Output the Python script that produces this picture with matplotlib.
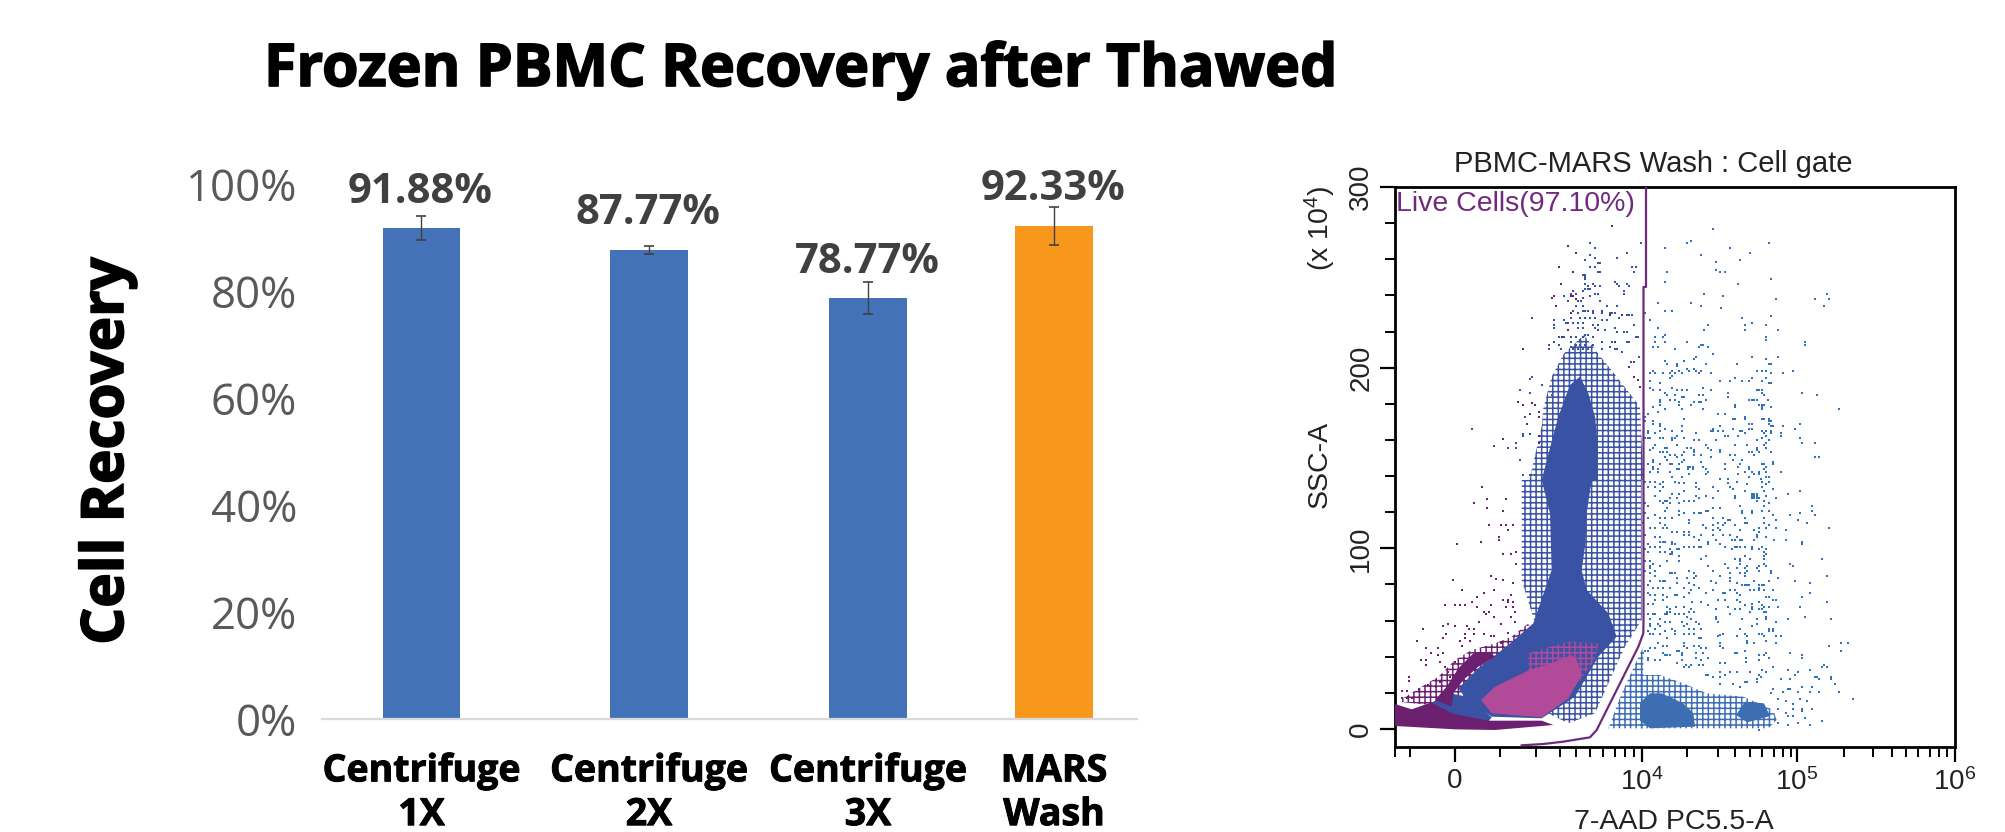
import matplotlib
matplotlib.use("Agg")
import matplotlib.pyplot as plt
import matplotlib.patheffects as pe
from matplotlib.patches import Polygon

# Recovery bars
categories = ["Centrifuge\n1X", "Centrifuge\n2X", "Centrifuge\n3X", "MARS\nWash"]
recovery = [91.88, 87.77, 78.77, 92.33]
recovery_err = [2.2, 0.7, 3.05, 3.55]
bar_colors = ["#4472b8", "#4472b8", "#4472b8", "#f7981d"]
bar_pos = [0.995, 3.27, 5.46, 7.32]
label_y = [98.6, 94.5, 85.5, 99.0]
pct_ticks = [0, 20, 40, 60, 80, 100]

# Flow plot (crop pixels, 3x of the figure)
blue_upper = [(220,27),(154,63),(140,70),(386,70),(75,85),(271,85),(329,99),(184,106),(300,120),(227,127),(227,149),(241,156),(256,156),(82,156),(393,178),(75,185),(293,192),(191,221),(249,229),(408,236),(524,236),(560,221),(567,236),(553,258),(53,250),(154,250),(184,258),(242,265),(75,272),(97,272),(16,280),(393,287),(307,294),(31,301),(336,309),(205,316),(314,316),(379,316),(53,323),(191,330),(314,330),(415,330),(75,345),(46,352),(68,352),(379,352),(379,359),(46,367),(75,367),(140,367),(494,367),(494,374),(183,374),(190,374),(176,381),(205,381),(39,381),(53,381),(104,388),(220,403),(169,410),(161,417),(336,410),(379,417),(415,410),(75,424),(82,431),(133,424),(292,431),(198,431),(111,431),(111,438),(386,431),(393,431),(140,446),(161,446),(169,453),(147,453),(184,453),(176,460),(118,453),(125,460),(39,453),(31,460),(46,460),(68,460),(97,453),(90,460),(104,460),(97,467),(212,460),(350,453),(365,453),(379,453),(393,460),(429,460),(458,453),(379,475),(365,482),(336,475),(328,482),(307,482),(285,475),(271,482),(241,482),(89,475),(31,482),(60,489),(386,489),(393,489),(31,504),(39,511),(60,511),(97,504),(111,511),(125,511),(140,511),(190,504),(212,511),(350,511),(358,511),(365,511),(365,518),(372,525),(263,518),(263,532),(487,518),(531,525),(75,518),(82,525),(104,525),(176,525),(190,525),(60,540),(60,547),(60,554),(89,540),(104,540),(125,532),(133,532),(118,547),(118,554),(198,540),(176,547),(183,547),(161,547),(154,554),(328,540),(336,540),(343,540),(350,540),(385,540),(358,554),(365,554),(372,554),(365,561),(365,568),(285,554),(285,561),(393,561),(39,561),(75,568),(53,575),(125,568),(190,568),(596,568),(234,583),(256,583),(24,583),(16,590),(278,597),(285,597),(314,590),(314,597),(365,597),(372,597),(386,597),(393,604),(133,597),(16,604),(39,604),(39,611),(60,611),(60,618),(126,618),(75,626),(241,618),(278,626),(328,611),(336,611),(386,604),(386,611),(393,618),(400,618),(429,618),(480,611),(465,626),(422,640),(422,647),(393,633),(393,640),(372,640),(379,633),(365,633),(336,626),(328,626),(307,633),(300,633),(314,640),(293,647),(249,633),(234,633),(212,633),(220,626),(220,633),(169,640),(126,633),(97,633),(60,633),(46,640),(24,633),(24,640),(111,647),(104,654),(97,654),(97,661),(60,654),(68,654),(24,654),(16,654),(31,654),(256,647),(263,647),(133,654),(161,661),(176,661),(227,661),(350,661),(365,654),(379,647),(386,661),(379,668),(372,676),(480,654),(487,668),(524,668),(285,676),(321,676),(350,683),(350,690),(358,697),(379,683),(393,697),(46,676),(39,683),(31,690),(75,683),(82,683),(111,676),(140,683),(154,683),(161,690),(198,676),(205,683),(212,690),(241,690),(241,697),(328,697),(336,697),(343,705),(270,705),(285,705),(60,697),(68,697),(82,697),(89,705),(104,705),(111,712),(133,697),(126,705),(161,697),(161,705),(184,705),(212,712),(524,712),(538,712),(278,719),(307,719),(39,719),(39,726),(75,712),(82,719),(133,719),(184,726),(256,733),(90,733),(97,733),(126,726),(118,733),(60,733),(24,733),(372,733),(400,726),(400,733),(365,733),(379,740),(372,747),(379,755),(143,740),(150,740),(158,740),(143,748),(158,748),(190,740),(197,748),(205,755),(198,762),(256,748),(300,733),(293,740),(328,740),(328,748),(336,755),(358,755),(358,762),(314,755),(293,762),(343,762),(422,755),(111,748),(118,748),(39,740),(39,748),(53,748),(53,755),(31,755),(89,755),(147,762),(97,770),(126,770),(241,776),(263,776),(328,770),(379,770),(386,770),(364,776)]

blue_lower = [(16,5),(31,5),(46,5),(68,5),(104,5),(118,10),(133,10),(169,10),(263,10),(292,5),(365,5),(386,5),(379,12),(24,20),(46,20),(60,12),(68,20),(169,20),(220,20),(270,20),(321,12),(365,20),(400,27),(60,33),(133,33),(176,27),(234,33),(278,27),(314,33),(372,33),(444,41),(480,34),(46,48),(97,41),(118,41),(169,48),(198,48),(285,48),(285,55),(336,41),(343,41),(350,41),(336,48),(343,48),(350,48),(336,55),(343,55),(350,55),(350,62),(358,55),(379,48),(408,55),(220,55),(60,62),(75,62),(82,62),(90,55),(111,55),(133,62),(147,62),(161,62),(176,55),(372,62),(386,70),(68,70),(90,70),(118,70),(16,70),(24,77),(300,77),(372,77),(516,77),(220,85),(241,85),(75,92),(82,85),(118,92),(133,99),(161,99),(176,99),(183,99),(205,92),(198,92),(307,92),(336,92),(365,92),(386,92),(516,92),(480,99),(451,106),(524,106),(335,99),(307,99),(16,99),(46,106),(24,113),(60,113),(75,113),(97,113),(118,106),(314,113),(372,113),(400,106),(473,121),(10,128),(60,128),(75,135),(147,121),(147,128),(190,135),(220,113),(249,113),(263,121),(270,121),(256,128),(234,128),(220,135),(285,135),(314,128),(321,128),(372,128),(408,121),(502,128),(31,143),(46,143),(68,143),(82,143),(197,143),(234,143),(249,135),(241,150),(220,150),(300,150),(358,143),(343,150),(386,135),(379,143),(408,143),(437,150),(567,143),(97,157),(111,157),(133,157),(147,157),(16,165),(46,172),(60,172),(68,186),(133,164),(147,165),(161,172),(183,165),(220,165),(249,165),(270,165),(292,172),(358,157),(350,164),(350,172),(300,179),(343,179),(379,172),(401,180),(437,180),(487,186),(487,193),(60,186),(75,186),(97,186),(97,193),(104,193),(176,180),(205,186),(205,193),(227,180),(241,193),(277,179),(285,179),(307,179),(24,193),(31,201),(46,201),(60,201),(133,201),(147,201),(161,201),(176,201),(183,201),(256,201),(285,201),(292,201),(300,201),(314,201),(336,201),(365,201),(379,208),(358,208),(336,208),(372,215),(16,208),(24,215),(60,215),(75,215),(90,208),(97,215),(111,208),(118,208),(275,208),(89,222),(97,222),(118,229),(379,222),(372,229),(372,237),(314,229),(329,237),(300,237),(285,237),(198,229),(183,237),(118,244),(82,244),(31,244),(39,251),(16,244),(545,237),(300,244),(300,251),(451,251),(458,258),(256,251),(205,258),(372,251),(379,258),(358,258),(263,265),(314,265),(321,258),(350,265),(292,265),(31,258),(31,265),(60,258),(16,273),(31,280),(46,273),(46,287),(90,280),(97,280),(104,280),(147,273),(161,280),(220,273),(270,280),(300,280),(314,280),(321,273),(357,273),(393,273),(393,280),(168,287),(140,294),(241,287),(314,287),(560,287),(415,295),(270,295),(270,302),(466,302),(60,302),(68,302),(75,302),(31,302),(161,294),(212,302),(343,302),(386,302),(111,295),(111,309),(147,309),(227,309),(292,309),(307,316),(314,316),(321,316),(328,316),(358,316),(365,316),(372,316),(509,309),(24,316),(39,323),(53,323),(68,323),(90,323),(133,323),(176,323),(161,316),(154,330),(220,331),(249,338),(256,338),(270,331),(285,331),(329,331),(343,331),(358,323),(358,331),(372,331),(400,331),(509,338),(24,338),(31,345),(46,345),(68,345),(104,345),(111,345),(147,338),(197,338),(292,338),(300,345),(379,352),(386,352),(487,352),(82,352),(133,352),(234,360),(256,360),(292,360),(336,373),(300,367),(358,367),(400,360),(408,360),(560,367),(24,373),(39,373),(68,360),(46,360),(183,367),(205,374),(155,367),(263,381),(285,388),(314,374),(365,374),(372,381),(386,381),(415,381),(480,381),(82,381),(90,388),(82,396),(90,396),(109,381),(133,381),(161,396),(147,396),(154,388),(227,388),(270,403),(300,388),(336,381),(336,388),(358,388),(365,388),(372,396),(379,396),(329,396),(24,403),(39,403),(46,403),(75,403),(82,403),(104,403),(118,403),(133,403),(227,410),(227,417),(234,425),(306,417),(379,410),(379,417),(350,417),(444,417),(494,410),(574,417),(140,410),(60,418),(31,418),(125,425),(154,418),(168,425),(75,425),(90,425),(407,425),(53,432),(60,439),(31,432),(31,439),(140,432),(176,432),(336,439),(350,432),(386,447),(400,447),(400,454),(300,447),(183,447),(147,447),(133,439),(161,446),(97,446),(104,454),(75,453),(46,446),(60,461),(31,461),(39,461),(24,454),(104,461),(133,461),(147,461),(161,461),(241,465),(249,461),(234,468),(292,468),(314,461),(321,468),(357,461),(365,461),(372,468),(386,454),(408,468),(422,468),(82,475),(176,475),(183,475),(321,483),(321,490),(343,490),(379,483),(408,490),(241,490),(241,497),(249,505),(567,497),(603,490),(625,490),(603,512),(31,505),(24,512),(16,512),(10,518),(53,490),(68,497),(82,497),(46,505),(111,512),(118,512),(125,519),(133,490),(133,498),(161,498),(176,498),(183,505),(197,505),(140,505),(75,526),(82,526),(90,526),(68,519),(125,526),(169,519),(190,519),(284,519),(292,519),(314,512),(379,519),(372,526),(358,526),(358,540),(386,533),(451,519),(487,526),(487,533),(319,533),(319,547),(241,548),(256,548),(24,533),(24,540),(46,540),(60,540),(125,540),(111,548),(168,533),(205,533),(183,540),(154,555),(139,555),(147,562),(132,562),(176,555),(190,555),(400,562),(552,555),(545,562),(560,562),(444,570),(473,577),(466,584),(509,570),(241,577),(241,591),(256,584),(270,577),(292,577),(365,570),(379,577),(357,584),(329,577),(584,613),(574,591),(574,598),(524,591),(531,591),(538,598),(422,598),(451,598),(364,591),(350,598),(350,606),(320,606),(314,606),(300,620),(198,584),(205,584),(220,591),(241,613),(278,613),(640,657),(596,635),(538,635),(516,620),(509,635),(487,620),(473,635),(444,628),(451,628),(429,635),(400,628),(393,640),(502,664),(480,657),(458,672),(437,664),(415,657),(516,686),(487,686),(487,693),(458,686),(437,700),(415,686),(545,722),(509,736),(494,714),(473,729),(444,708),(444,736),(458,708),(415,729),(358,750),(386,736)]

tower_blue = [(451,70),(465,85),(604,70),(560,99),(531,113),(451,106),(465,113),(436,120),(473,128),(480,128),(451,142),(465,142),(575,142),(589,142),(582,157),(473,157),(480,157),(429,164),(436,164),(436,171),(436,178),(436,192),(458,192),(465,199),(480,199),(524,185),(531,192),(538,199),(560,192),(567,199),(553,214),(553,221),(444,199),(436,207),(444,207),(451,207),(429,214),(400,214),(393,221),(407,221),(371,228),(465,221),(473,221),(451,228),(429,235),(422,243),(414,243),(385,243),(480,243),(349,257),(407,257),(429,257),(502,257),(531,257),(400,272),(429,272),(436,272),(444,272),(458,272),(487,272),(487,279),(458,279),(414,279),(509,279),(516,279),(524,279),(509,286),(560,286),(567,286),(575,286),(545,286),(538,294),(393,294),(421,294),(436,294),(451,294),(465,294),(277,294),(342,301),(371,301),(378,308),(385,308),(400,308),(414,308),(429,308),(458,315),(473,315),(487,301),(502,301),(582,315),(342,315),(342,323),(385,330),(414,323),(429,323),(465,323),(473,330),(494,330),(524,323),(531,337),(553,337),(560,337),(356,352),(371,352),(393,352),(407,352),(421,359),(436,345),(444,345),(458,352),(429,352),(487,367),(595,352),(589,352),(327,374),(342,367),(356,374),(393,367),(407,374),(421,374),(436,374),(458,374),(516,367),(524,367),(560,367),(567,367),(510,381),(327,388),(364,388),(393,381),(400,388),(414,388),(429,388),(444,388),(487,388),(524,388),(531,388),(545,396),(596,410),(574,425),(581,425),(96,627),(161,678),(205,685),(227,670),(227,685),(241,720),(248,765),(270,765),(284,765),(241,511),(270,518),(277,470),(270,478),(305,496),(335,525),(255,590),(269,583),(269,642),(248,642),(248,649)]

tower_purple = [(385,77),(407,99),(356,142),(400,157),(364,192),(516,19),(248,388),(190,656),(234,547),(248,554),(298,648),(297,670),(262,612),(276,548),(284,554),(298,576),(298,590),(335,235),(342,228),(349,257),(393,229),(400,229),(407,236),(394,279),(385,330),(365,352),(510,286),(545,286),(525,367),(567,440),(582,470),(595,480),(600,500)]

left_purple = [(260,20),(275,56),(238,70),(275,85),(333,56),(325,92),(282,135),(318,135),(333,135),(355,135),(340,150),(311,172),(311,179),(259,186),(187,193),(325,222),(347,222),(362,215),(362,251),(289,287),(304,296),(325,301),(355,309),(173,301),(202,331),(296,331),(267,338),(245,352),(231,367),(151,374),(180,374),(195,374),(209,374),(245,381),(267,396),(282,396),(289,374),(325,360),(340,360),(347,345),(332,381),(340,367),(354,367),(354,381),(360,396),(85,446),(65,482),(144,439),(158,432),(180,439),(216,439),(223,446),(238,446),(252,425),(274,403),(296,410),(318,432),(347,410),(361,425),(152,461),(144,475),(209,461),(238,461),(267,461),(209,475),(195,482),(224,482),(202,497),(93,504),(129,504),(108,518),(129,525),(144,518),(79,540),(93,540),(93,554),(136,547),(43,590),(43,604),(22,633),(36,633),(22,655),(36,655),(50,655),(72,633),(72,626),(100,615),(122,620),(136,605),(165,590),(150,561),(158,575),(180,547),(289,468),(296,468),(318,490),(340,460)]

# dense regions (crop 7 unless noted)
tower_core = [(440,0),(590,0),(575,100),(570,200),(560,270),(575,330),(640,400),(665,470),(610,530),(540,650),(440,715),(290,710),(220,665),(190,625),(250,565),(340,495),(415,430),(470,270),(465,100)]
tower_top_core = [(420,470),(445,520),(465,590),(472,660),(472,780),(305,780),(335,665),(355,590),(390,495)]
tower_medium = [(432,345),(470,395),(530,470),(600,560),(610,780),(268,780),(305,620),(310,565),(335,470),(372,400)]
tower_medium_low = [(380,0),(740,0),(740,420),(690,500),(640,610),(600,700),(520,730),(460,700),(380,640),(420,430),(380,300)]
base_gap = [(105,670),(165,640),(215,650),(290,712),(280,725),(170,702)]
purple_speckle = [(8,665),(80,620),(130,590),(180,540),(230,510),(300,490),(350,470),(400,430),(425,520),(300,600),(150,680)]
purple_band = [(120,660),(155,620),(190,565),(235,520),(285,515),(300,530),(250,560),(205,600),(175,640),(170,680)]
pink_speckle = [(400,520),(520,485),(610,490),(600,540),(540,620),(400,590)]
pink_core = [(530,525),(480,545),(400,572),(300,620),(258,660),(290,700),(440,712),(520,655),(560,585),(545,540)]
purple_strip = [(0,672),(50,688),(110,667),(170,700),(280,722),(440,722),(475,735),(300,750),(180,748),(0,738)]
right_core_a = [(0,668),(30,640),(65,640),(130,670),(160,700),(165,740),(30,745),(0,722)]
right_core_b = [(315,665),(372,670),(390,708),(322,727),(288,705)]
right_medium = [(0,585),(60,585),(130,610),(200,640),(310,650),(400,690),(410,720),(385,745),(0,745)]
right_medium_gate = [(745,500),(745,745),(640,745),(680,640)]

gate_top = [(1646,187),(1646,287),(1643.5,287),(1643.5,620)]
gate_curve = [(880,280),(865,320),(840,370),(800,450),(770,510),(740,570),(720,592),(640,605),(580,612),(515,616)]

ssc_major = [0, 100, 200, 300]
ssc_minor = [20, 40, 60, 80, 120, 140, 160, 180, 220, 240, 260, 280]
chan_major = [60, 247, 402, 560]
chan_major_labels = ["0", "$\\mathregular{10^4}$", "$\\mathregular{10^5}$", "$\\mathregular{10^6}$"]
chan_minor = [0, 15, 105, 141, 165, 181, 195, 208, 220, 230, 239, 292, 323, 340, 355, 367, 379, 388, 396, 449, 478, 497, 511, 523, 535, 544, 552]

W, H = 2006, 832
SSC_PER_PX = 300 / (729 - 187)


def ax_rect(left, right, top, bottom):
    return [left / W, 1 - bottom / H, (right - left) / W, (bottom - top) / H]


def from_crop(points, x0, y0):
    # crop pixels -> flow plot axis units
    xs = [x0 + p[0] / 3 - 1395 for p in points]
    ys = [(729 - (y0 + p[1] / 3)) * SSC_PER_PX for p in points]
    return xs, ys


def area(ax, points, x0, y0, color, z, hatch=None):
    xs, ys = from_crop(points, x0, y0)
    if hatch:
        patch = Polygon(list(zip(xs, ys)), closed=True, facecolor="none", edgecolor=color, hatch=hatch, linewidth=0, zorder=z)
    else:
        patch = Polygon(list(zip(xs, ys)), closed=True, facecolor=color, edgecolor="none", zorder=z)
    ax.add_patch(patch)


def dots(ax, points, x0, y0, color, z):
    xs, ys = from_crop(points, x0, y0)
    ax.scatter(xs, ys, s=4.5, marker="s", color=color, linewidths=0, zorder=z)


plt.rcParams["hatch.linewidth"] = 1.1
fig = plt.figure(figsize=(W / 100, H / 100), dpi=100, facecolor="white")

heavy = [pe.withStroke(linewidth=1.2, foreground="black")]
fig.text(264 / W, 1 - 86 / H, "Frozen PBMC Recovery after Thawed", fontsize=42.5, family="Open Sans", weight="bold", ha="left", va="baseline", color="black", path_effects=heavy)
fig.text(108 / W, 1 - 451 / H, "Cell Recovery", fontsize=42, family="Open Sans", weight="bold", rotation=90, ha="center", va="center", color="black", path_effects=heavy)

# bar chart
ax = fig.add_axes(ax_rect(322, 1137, 184.6, 719))
ax.bar(bar_pos, recovery, width=0.775, color=bar_colors, zorder=2)
ax.errorbar(bar_pos, recovery, yerr=recovery_err, fmt="none", ecolor="#404040", elinewidth=1, capsize=3.6, capthick=1.2, zorder=3)
for x, v, ly in zip(bar_pos, recovery, label_y):
    ax.text(x - 0.01, ly, f"{v:.2f}%", ha="center", va="center", fontsize=30, family="Open Sans", weight="bold", color="#404040")
ax.set_xlim(0, 8.15)
ax.set_ylim(0, 100)
ax.set_yticks(pct_ticks)
ax.set_yticklabels([f"{t}%" for t in pct_ticks], fontsize=31.5, family="Open Sans", color="#595959")
ax.set_xticks(bar_pos)
ax.set_xticklabels(categories, fontsize=27, family="Open Sans", weight="bold", color="black", linespacing=1.2, path_effects=[pe.withStroke(linewidth=0.7, foreground="black")])
ax.tick_params(axis="both", length=0)
ax.tick_params(axis="y", pad=18)
ax.tick_params(axis="x", pad=24)
for side in ["top", "right", "left"]:
    ax.spines[side].set_visible(False)
ax.spines["bottom"].set_color("#d9d9d9")
ax.spines["bottom"].set_linewidth(1.6)

# flow cytometry plot
fx = fig.add_axes(ax_rect(1395, 1955, 187, 747))
fx.set_xlim(0, 560)
fx.set_ylim(-18 * SSC_PER_PX, 542 * SSC_PER_PX)

blue_sparse = "#2f72c0"
blue_right = "#3d6eb3"
blue_tower = "#3a52a3"
purple = "#6b2170"
pink = "#b24a9a"

area(fx, right_medium, 1640, 480, blue_right, 2, hatch="+++")
area(fx, right_medium_gate, 1395, 480, blue_right, 2, hatch="+++")
area(fx, right_core_a, 1640, 480, blue_right, 3)
area(fx, right_core_b, 1640, 480, blue_right, 3)
dots(fx, blue_upper, 1640, 220, blue_sparse, 4)
dots(fx, blue_lower, 1640, 480, blue_sparse, 4)

area(fx, tower_medium_low, 1395, 480, blue_tower, 5, hatch="+++")
area(fx, tower_medium, 1440, 220, blue_tower, 5, hatch="+++")
area(fx, purple_speckle, 1395, 480, purple, 5, hatch="+++")
area(fx, base_gap, 1395, 480, blue_tower, 6)
area(fx, tower_core, 1395, 480, blue_tower, 6)
area(fx, tower_top_core, 1440, 220, blue_tower, 6)
area(fx, purple_band, 1395, 480, purple, 6)
dots(fx, tower_blue, 1440, 220, blue_tower, 7)
dots(fx, tower_purple, 1440, 220, purple, 7)
dots(fx, left_purple, 1395, 480, purple, 7)
area(fx, pink_speckle, 1395, 480, pink, 7, hatch="+++")
area(fx, pink_core, 1395, 480, pink, 8)
area(fx, purple_strip, 1395, 480, purple, 8)

# live cell gate
gx = [p[0] - 1395 for p in gate_top]
gy = [(729 - p[1]) * SSC_PER_PX for p in gate_top]
cx, cy = from_crop(gate_curve, 1350, 540)
fx.plot(gx + cx, gy + cy, color="#6f2a7e", lw=1.6, zorder=9)

fx.text(1, (729 - 204) * SSC_PER_PX, "Live Cells(97.10%)", fontsize=20.5, family="Liberation Sans", color="#6f2a7e", va="center", ha="left", zorder=10)

fx.set_xticks(chan_major)
fx.set_xticklabels(chan_major_labels, fontsize=20, family="Liberation Sans", color="#222222")
fx.set_xticks(chan_minor, minor=True)
fx.set_yticks(ssc_major)
fx.set_yticklabels([str(t) for t in ssc_major], fontsize=20, family="Liberation Sans", color="#222222", rotation=90, va="center")
fx.set_yticks(ssc_minor, minor=True)
fx.tick_params(axis="both", which="major", length=11, width=1.6, color="black", pad=4)
fx.tick_params(axis="both", which="minor", length=7, width=1.4, color="black")
for side in fx.spines.values():
    side.set_linewidth(2)

fig.text(1653 / W, 1 - 164 / H, "PBMC-MARS Wash : Cell gate", fontsize=21, family="Liberation Sans", ha="center", va="center", color="#222222")
fig.text(1674 / W, 1 - 822 / H, "7-AAD PC5.5-A", fontsize=20.5, family="Liberation Sans", ha="center", va="center", color="#222222")
fig.text(1320 / W, 1 - 464 / H, "SSC-A", fontsize=20.5, family="Liberation Sans", rotation=90, ha="center", va="center", color="#222222")
fig.text(1320 / W, 1 - 228 / H, "(x $\\mathregular{10^4}$)", fontsize=20.5, family="Liberation Sans", rotation=90, ha="center", va="center", color="#222222")

fig.savefig("out.png", dpi=100)
